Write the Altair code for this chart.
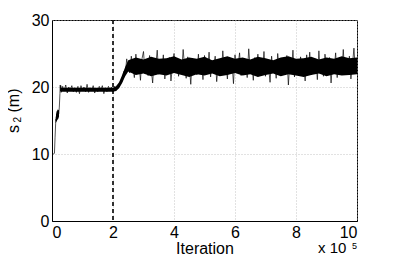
import altair as alt
import pandas as pd

# ---- data (x in units of 1e5 iterations, y = s2 in m) ----
burn_x = [0.00, 0.04, 0.08, 0.10, 0.12, 0.13, 0.14, 0.15, 0.16, 0.17, 0.18, 0.19,
          0.20, 0.21, 0.22, 0.24, 0.26, 0.27, 0.28, 0.29]
burn_y = [10.0, 10.0, 10.1, 12.5, 14.6, 15.2, 14.9, 16.0, 15.3, 16.4, 15.6, 16.6,
          15.8, 16.5, 16.0, 17.0, 19.0, 20.3, 19.4, 20.2]

# plateau + rise, sampled every 0.05 from 0.30
plateau_start = 0.30
plateau_y = [19.2, 20.1, 19.4, 20.3, 19.1, 20.0, 19.6, 20.2, 19.3, 19.9,
             19.2, 20.1, 19.0, 20.2, 19.5, 20.0, 19.3, 20.4, 19.2, 19.9,
             19.4, 20.2, 19.1, 19.8, 19.3, 20.1, 19.5, 20.2, 19.0, 19.9,
             19.3, 20.1, 19.6, 20.0, 19.3, 20.1,
             19.5, 20.3, 20.0, 21.0, 20.8, 22.3, 21.9, 24.2, 22.6]

# stationary part, sampled every 0.05 from 2.55
station_start = 2.55
station_y = [22.1, 24.6, 23.0, 21.4, 24.9, 22.5, 23.8, 21.0, 24.2, 25.3,
             22.0, 23.4, 21.7, 24.7, 22.8, 20.6, 24.0, 23.2, 25.5, 21.9,
             23.6, 22.3, 24.8, 21.2, 23.9, 22.7, 24.4, 20.9, 23.1, 25.0,
             22.4, 24.1, 21.6, 23.7, 22.2, 25.6, 22.9, 21.3, 24.5, 23.3,
             20.4, 24.3, 22.6, 23.9, 21.8, 24.9, 22.1, 23.5, 21.1, 24.7,
             23.0, 22.4, 25.2, 21.5, 23.8, 22.8, 24.6, 20.8, 23.4, 24.0,
             21.9, 25.4, 22.5, 23.6, 21.2, 24.3, 22.9, 23.7, 20.5, 24.8,
             22.3, 23.2, 25.1, 21.7, 24.2, 22.0, 23.9, 21.4, 25.7, 22.7,
             23.5, 21.0, 24.4, 22.6, 24.9, 21.8, 23.3, 22.2, 25.3, 21.6,
             24.1, 23.0, 20.7, 24.6, 22.4, 23.8, 21.3, 25.0, 22.8, 24.3,
             21.9, 23.6, 22.1, 24.7, 20.3, 23.9, 22.5, 25.5, 21.5, 24.0,
             23.1, 21.7, 24.5, 22.9, 23.4, 20.9, 24.8, 22.3, 25.2, 21.8,
             23.7, 22.6, 24.2, 21.1, 25.4, 22.0, 23.5, 21.6, 24.9, 23.2,
             22.4, 24.4, 20.6, 23.8, 22.7, 25.1, 21.4, 24.1, 23.0, 22.2,
             25.6, 21.9, 23.6, 22.5, 24.6, 21.2, 23.3, 25.8, 22.1, 24.0]

# dense (solid black) core of the trace
# burn-in blob and plateau/rise: explicit x
blob_x = [0.12, 0.15, 0.18, 0.21, 0.23]
blob_lo = [14.6, 14.9, 15.1, 15.3, 15.6]
blob_hi = [15.4, 16.2, 16.4, 16.5, 16.6]
rise_x = [0.28, 2.0, 2.1, 2.2, 2.3, 2.4]
rise_lo = [19.3, 19.3, 19.4, 19.8, 20.6, 21.6]
rise_hi = [19.9, 19.9, 20.1, 20.7, 21.8, 23.0]
# stationary core, every 0.25 from 2.5
core_start = 2.5
core_step = 0.25
core_hi = [24.0, 24.4, 24.1, 24.5, 24.2, 24.3, 24.6, 24.1, 24.4, 24.2, 24.5,
           24.0, 24.3, 24.6, 24.2, 24.4, 24.1, 24.5, 24.3, 24.0, 24.4, 24.6,
           24.2, 24.3, 24.5, 24.1, 24.4, 24.2, 24.6, 24.3, 24.4]
core_lo = [22.3, 21.8, 22.0, 21.6, 21.9, 21.7, 22.1, 21.8, 21.5, 21.9, 21.7,
           22.0, 21.6, 21.8, 22.1, 21.7, 21.9, 21.5, 21.8, 22.0, 21.6, 21.9,
           21.7, 21.5, 21.8, 22.0, 21.6, 21.9, 21.7, 21.8, 21.9]

burnin_end = [2]
x_ticks = list(range(0, 11))
y_ticks = [0, 10, 20, 30]
step = 0.05

# ---- build tables ----
tx, ty = list(burn_x), list(burn_y)
for i, v in enumerate(plateau_y):
    tx.append(round(plateau_start + i * step, 4)); ty.append(v)
for i, v in enumerate(station_y):
    tx.append(round(station_start + i * step, 4)); ty.append(v)
trace = pd.DataFrame({"x": tx, "y": ty, "order": range(len(tx))})

cx = list(blob_x) + list(rise_x) + [round(core_start + i * core_step, 4) for i in range(len(core_hi))]
clo = list(blob_lo) + list(rise_lo) + list(core_lo)
chi = list(blob_hi) + list(rise_hi) + list(core_hi)
cseg = [0] * len(blob_x) + [1] * (len(rise_x) + len(core_hi))
core = pd.DataFrame({"x": cx, "lo": clo, "hi": chi, "seg": cseg})
vline = pd.DataFrame({"x": burnin_end})

FONT = "Liberation Sans"
xs = alt.Scale(domain=[0, 10], nice=False)
ys = alt.Scale(domain=[0, 30], nice=False)

band = alt.Chart(core).mark_area(color="black").encode(
    x=alt.X("x:Q", scale=xs,
            axis=alt.Axis(values=x_ticks, format="d", title="Iteration",
                          labelPadding=3, labelOverlap=False, titleY=32,
                          titleBaseline="alphabetic", grid=True)),
    y=alt.Y("lo:Q", scale=ys,
            axis=alt.Axis(values=y_ticks, format="d", title=None,
                          labelPadding=3, labelOverlap=False, grid=True)),
    y2="hi:Q",
    detail="seg:N",
)

line = alt.Chart(trace).mark_line(color="black", strokeWidth=0.9, opacity=0.75).encode(
    x=alt.X("x:Q", scale=xs),
    y=alt.Y("y:Q", scale=ys),
    order="order:Q",
)

rule = alt.Chart(vline).mark_rule(color="black", strokeWidth=1.6,
                                  strokeDash=[4, 3]).encode(x=alt.X("x:Q", scale=xs))


def label(txt, x, y, size, angle=0):
    return alt.Chart(pd.DataFrame({"t": [txt]})).mark_text(
        font=FONT, fontSize=size, align="left", baseline="alphabetic",
        color="black", angle=angle,
    ).encode(x=alt.value(x), y=alt.value(y), text="t:N")


# y-axis title  s_2 (m)  (rotated)
ytitle = [label("s", -33, 113, 16, 270),
          label("2", -31.5, 102.5, 10, 270),
          label("(m)", -33, 92.5, 16, 270)]
# exponent  x 10^5
expo = [label("x 10", 266, 233, 15), label("5", 300, 229, 9)]

chart = alt.layer(band, line, rule, *ytitle, *expo).properties(
    width=305, height=201,
    autosize=alt.AutoSizeParams(type="none"),
    padding={"left": 44, "top": 12, "right": 30, "bottom": 34},
).configure_view(stroke="black", strokeWidth=1).configure_axis(
    labelFont=FONT, titleFont=FONT, labelFontSize=16, titleFontSize=16,
    labelColor="black", titleColor="black", titleFontWeight="normal",
    domainColor="black", domainWidth=1, ticks=False,
    gridColor="#b5b5b5", gridDash=[1, 2], gridWidth=0.8,
).configure_axisY(labelBaseline="middle")

chart.save("out.html", embed_options={"renderer": "svg", "actions": False})
